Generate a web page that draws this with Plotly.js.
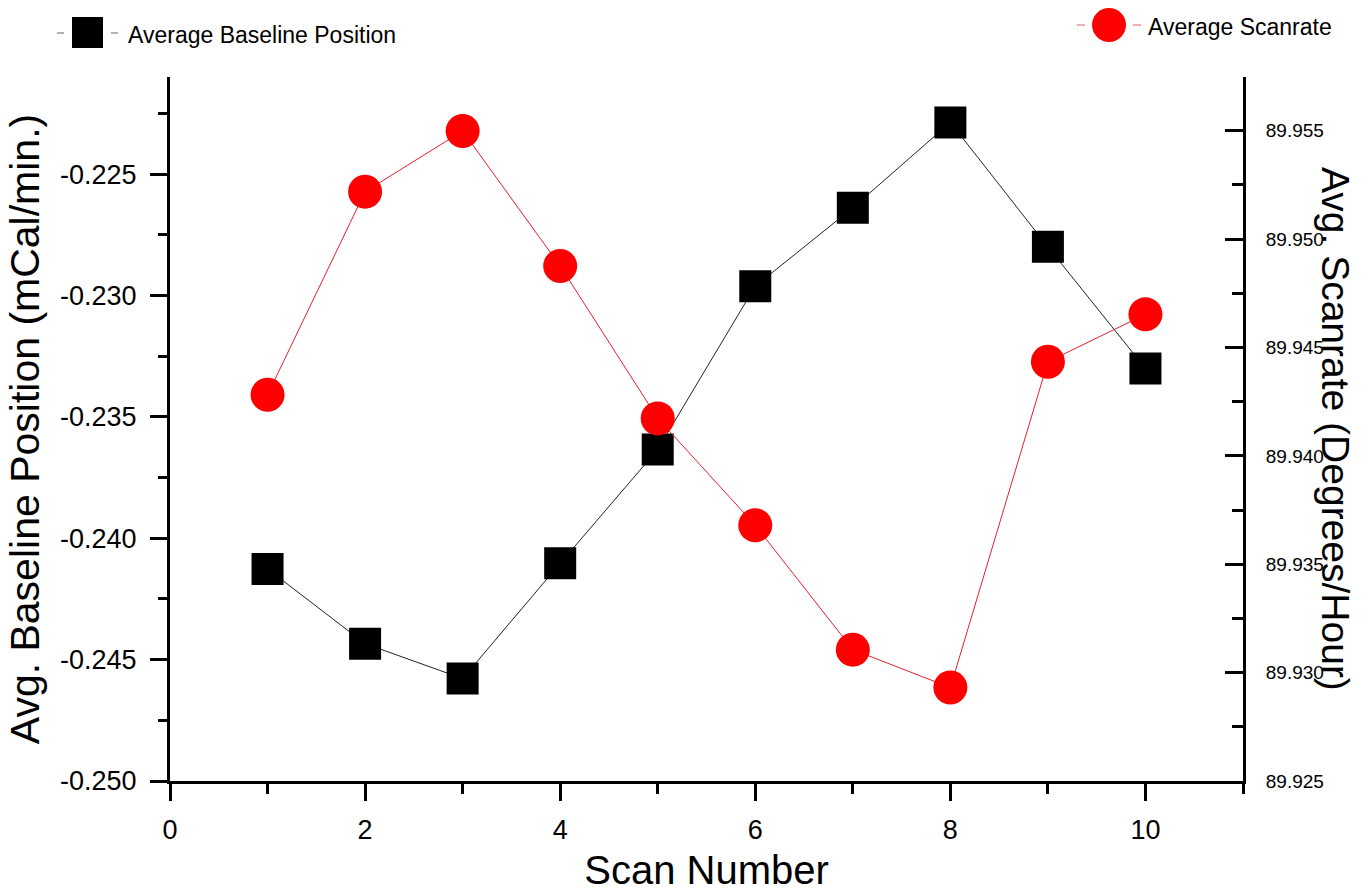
<!DOCTYPE html>
<html>
<head>
<meta charset="utf-8">
<script src="https://cdn.plot.ly/plotly-3.0.1.min.js"></script>
<style>html,body{margin:0;padding:0;background:#fff;}#chart{width:1372px;height:893px;}</style>
</head>
<body>
<div id="chart"></div>
<script>
// Data
var scanNumber = [1, 2, 3, 4, 5, 6, 7, 8, 9, 10];
var avgBaseline = [-0.24126, -0.24434, -0.24578, -0.24103, -0.23634, -0.22961, -0.22638, -0.22286, -0.22799, -0.23300];
var avgScanrate = [89.94282, 89.95219, 89.95499, 89.94876, 89.94173, 89.93680, 89.93106, 89.92931, 89.94434, 89.94653];

var leftTickVals = [-0.250, -0.245, -0.240, -0.235, -0.230, -0.225];
var leftTickText = ["-0.250", "-0.245", "-0.240", "-0.235", "-0.230", "-0.225"];

var seriesNames = ["Average Baseline Position", "Average Scanrate"];
var xTitle = "Scan Number";
var yLeftTitle = "Avg. Baseline Position (mCal/min.)";
var yRightTitle = "Avg. Scanrate (Degrees/Hour)";

var FONT = "Liberation Sans, Arial, sans-serif";

// plot-area geometry (pixels) used only to place the hand-made legend keys
var M = {l: 170, r: 129, t: 77, b: 112};
var W = 1372, H = 893;
var PW = W - M.l - M.r, PH = H - M.t - M.b;
function px(x) { return (x - M.l) / PW; }
function py(y) { return (H - M.b - y) / PH; }

var traces = [
  {
    x: scanNumber, y: avgBaseline, name: seriesNames[0],
    type: "scatter", mode: "lines+markers", yaxis: "y",
    line: {color: "#222222", width: 1},
    marker: {symbol: "square", size: 32, color: "#000000", line: {width: 0}}
  },
  {
    x: scanNumber, y: avgScanrate, name: seriesNames[1],
    type: "scatter", mode: "lines+markers", yaxis: "y2",
    line: {color: "#e8202a", width: 1},
    marker: {symbol: "circle", size: 34, color: "#ff0000", line: {width: 0}}
  }
];

// legend keys (drawn as shapes next to real-text annotations)
var shapes = [
  {type: "line", xref: "paper", yref: "paper", x0: px(57), x1: px(64), y0: py(33), y1: py(33), line: {color: "#666", width: 1}},
  {type: "rect", xref: "paper", yref: "paper", x0: px(72), x1: px(103), y0: py(17), y1: py(48), fillcolor: "#000", line: {width: 0}},
  {type: "line", xref: "paper", yref: "paper", x0: px(111), x1: px(118), y0: py(33), y1: py(33), line: {color: "#666", width: 1}},
  {type: "line", xref: "paper", yref: "paper", x0: px(1077), x1: px(1085), y0: py(25), y1: py(25), line: {color: "#e05a5a", width: 1}},
  {type: "circle", xref: "paper", yref: "paper", x0: px(1092), x1: px(1126), y0: py(8), y1: py(42), fillcolor: "#ff0000", line: {width: 0}},
  {type: "line", xref: "paper", yref: "paper", x0: px(1133), x1: px(1141), y0: py(25), y1: py(25), line: {color: "#e05a5a", width: 1}}
];

var layout = {
  width: W, height: H,
  paper_bgcolor: "#ffffff", plot_bgcolor: "#ffffff",
  font: {family: FONT, color: "#000000"},
  margin: {l: M.l, r: M.r, t: M.t, b: M.b, pad: 0},
  showlegend: false,
  xaxis: {
    range: [0, 11], tick0: 0, dtick: 2,
    showgrid: false, zeroline: false,
    showline: true, linewidth: 3, linecolor: "#000",
    ticks: "outside", ticklen: 17, tickwidth: 3, tickcolor: "#000",
    minor: {dtick: 1, tick0: 0, ticks: "outside", ticklen: 10, tickwidth: 3, tickcolor: "#000"},
    tickfont: {size: 27, family: FONT},
    ticklabelstandoff: 6,
    title: {text: xTitle, font: {size: 40, family: FONT}, standoff: 12}
  },
  yaxis: {
    range: [-0.25, -0.22099],
    tickmode: "array", tickvals: leftTickVals, ticktext: leftTickText,
    showgrid: false, zeroline: false,
    showline: true, linewidth: 3, linecolor: "#000",
    ticks: "outside", ticklen: 17, tickwidth: 3, tickcolor: "#000",
    minor: {tickmode: "linear", tick0: -0.25, dtick: 0.0025, ticks: "outside", ticklen: 9, tickwidth: 3, tickcolor: "#000"},
    tickfont: {size: 27, family: FONT},
    ticklabelstandoff: 8,
    title: {text: yLeftTitle, font: {size: 41, family: FONT}, standoff: 8}
  },
  yaxis2: {
    overlaying: "y", side: "right",
    range: [89.925, 89.95748], tick0: 89.925, dtick: 0.005, tickformat: ".3f",
    showgrid: false, zeroline: false,
    showline: true, linewidth: 3, linecolor: "#000",
    ticks: "inside", ticklen: 18, tickwidth: 3, tickcolor: "#000",
    minor: {tick0: 89.925, dtick: 0.0025, ticks: "inside", ticklen: 11, tickwidth: 3, tickcolor: "#000"},
    tickfont: {size: 19, family: FONT},
    ticklabelstandoff: 16
  },
  shapes: shapes,
  annotations: [
    {
      text: yRightTitle, xref: "paper", yref: "paper",
      x: px(1336), y: 0.5, xanchor: "center", yanchor: "middle",
      textangle: 90, showarrow: false,
      font: {size: 39, family: FONT, color: "#000"}
    },
    {
      text: seriesNames[0], xref: "paper", yref: "paper",
      x: px(126), y: py(35), xanchor: "left", yanchor: "middle",
      showarrow: false, font: {size: 23, family: FONT, color: "#000"}
    },
    {
      text: seriesNames[1], xref: "paper", yref: "paper",
      x: px(1146), y: py(27), xanchor: "left", yanchor: "middle",
      showarrow: false, font: {size: 23, family: FONT, color: "#000"}
    }
  ]
};

Plotly.newPlot("chart", traces, layout, {displayModeBar: false, staticPlot: true});
</script>
</body>
</html>
